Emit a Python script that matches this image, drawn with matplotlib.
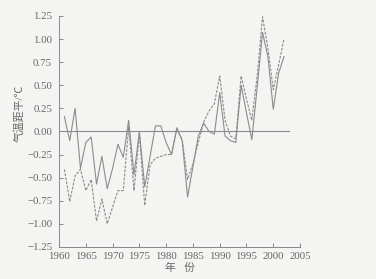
import matplotlib
matplotlib.use("Agg")
import matplotlib.pyplot as plt
import numpy as np

plt.rcParams['font.family'] = ['Liberation Serif', 'Noto Sans CJK SC', 'DejaVu Sans']

years = list(range(1961, 2003))
# solid line
anomaly_solid = [0.16, -0.10, 0.25, -0.40, -0.12, -0.06, -0.57, -0.27, -0.62, -0.40,
                 -0.14, -0.28, 0.12, -0.47, 0.00, -0.60, -0.27, 0.06, 0.06, -0.12,
                 -0.25, 0.04, -0.10, -0.71, -0.38, -0.05, 0.09, 0.00, -0.03, 0.42,
                 -0.05, -0.10, -0.12, 0.50, 0.20, -0.09, 0.48, 1.07, 0.81, 0.24,
                 0.63, 0.81]
# dashed line
anomaly_dashed = [-0.41, -0.76, -0.48, -0.41, -0.64, -0.52, -0.97, -0.73, -1.00, -0.82,
                  -0.64, -0.64, 0.05, -0.64, -0.03, -0.80, -0.36, -0.29, -0.27, -0.25,
                  -0.25, 0.02, -0.09, -0.52, -0.35, -0.12, 0.10, 0.22, 0.30, 0.60,
                  0.12, -0.05, -0.08, 0.60, 0.35, 0.12, 0.60, 1.24, 0.90, 0.45,
                  0.72, 1.00]
xticks = [1960, 1965, 1970, 1975, 1980, 1985, 1990, 1995, 2000, 2005]
yticks = [1.25, 1.00, 0.75, 0.50, 0.25, 0.00, -0.25, -0.50, -0.75, -1.00, -1.25]

bg = '#f4f4f2'
line_c = '#8c8c8c'

fig = plt.figure(figsize=(3.76, 2.79), dpi=100, facecolor=bg)
ax = fig.add_axes([0.157, 0.115, 0.641, 0.828])
ax.set_facecolor(bg)

ax.plot([1960, 2003], [0, 0], color=line_c, lw=0.8)
ax.plot(years, anomaly_solid, color=line_c, lw=0.8)
ax.plot(years, anomaly_dashed, color=line_c, lw=0.8, linestyle=(0, (2.5, 1.2)))

ax.set_xlim(1960, 2005)
ax.set_ylim(-1.25, 1.25)
ax.set_xticks(xticks)
ax.set_yticks(yticks)
ax.set_yticklabels(['%.2f' % v if v >= 0 else '\u2212%.2f' % -v for v in yticks])
ax.tick_params(direction='in', length=3, width=0.6, color='#777777',
               labelsize=7.8, labelcolor='#666666')
ax.tick_params(axis='y', pad=5)
ax.tick_params(axis='x', pad=4)
for s in ['top', 'right']:
    ax.spines[s].set_visible(False)
for s in ['left', 'bottom']:
    ax.spines[s].set_color('#888888')
    ax.spines[s].set_linewidth(0.7)

ax.set_xlabel('年   份', fontsize=7.8, color='#666666', labelpad=1)
ax.set_ylabel('气温距平/℃', fontsize=7.8, color='#666666')
ax.yaxis.set_label_coords(-0.145, 0.58)

fig.savefig('out.png', dpi=100, facecolor=bg)
